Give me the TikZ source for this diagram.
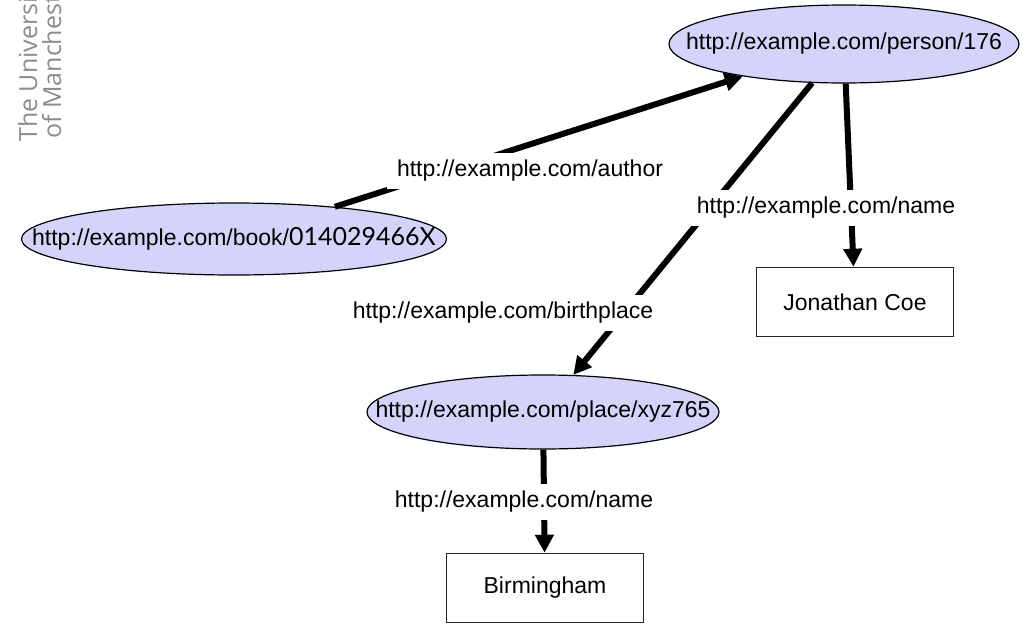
\documentclass[tikz,border=0pt]{standalone}
\usepackage{fontspec}
\setmainfont{Liberation Sans}
\newfontfamily\digitfont{Lato}
\newfontfamily\logofont{Open Sans}
\usetikzlibrary{shapes.geometric,arrows.meta}
\definecolor{nodefill}{RGB}{212,212,250}
\definecolor{logogrey}{RGB}{140,140,140}
\begin{document}
\begin{tikzpicture}[x=1pt,y=-1pt,
  font=\fontsize{23}{27}\selectfont,
  resource/.style={ellipse, draw=black, line width=1.2pt, fill=nodefill, inner sep=0pt},
  literal/.style={rectangle, draw=black!85, line width=1.5pt, fill=white,
    minimum width=197pt, minimum height=69pt},
  prop/.style={fill=white, inner xsep=10pt, inner ysep=0pt, minimum height=36pt},
  link/.style={line width=6pt, -{Triangle[length=18pt,width=18pt]}},
  logo/.style={rotate=90, anchor=base west, inner sep=0pt, text=logogrey,
    font=\logofont\fontsize{25}{27}\selectfont}]
\useasboundingbox (0,0) rectangle (1031,624);
\clip (0,0) rectangle (1031,624);

% university logotype, set sideways
\node[logo] (logoA) at (37,142) {The University};
\node[logo] (logoB) at (61,139) {of Manchester};

% resources
\node[resource, minimum width=350pt, minimum height=78pt] (person) at (844,44) {};
\node[resource, minimum width=425pt, minimum height=72pt] (book) at (234,239) {};
\node[resource, minimum width=352pt, minimum height=74pt] (place) at (543,412) {};

% literals
\node[literal] (coe) at (855,302) {Jonathan Coe};
\node[literal] (brum) at (545,588) {Birmingham};

% statements
\draw[link] (book) -- (person);
\draw[link] (person) -- (place);
\draw[link] (person) -- (coe);
\draw[link] (place) -- (brum);

% resource names
\node (personT) at (person) {http://example.com/person/176};
\node (bookT) at (book) {http://example.com/book/{\digitfont\fontsize{25}{27}\selectfont 014029466X}};
\node (placeT) at (place) {http://example.com/place/xyz765};

% property labels
\node[prop] (pAuthor) at (530,171) {http://example.com/author};
\node[prop] (pName1) at (826,208) {http://example.com/name};
\node[prop] (pBirth) at (503,313) {http://example.com/birthplace};
\node[prop] (pName2) at (524,502) {http://example.com/name};
\end{tikzpicture}
\end{document}
